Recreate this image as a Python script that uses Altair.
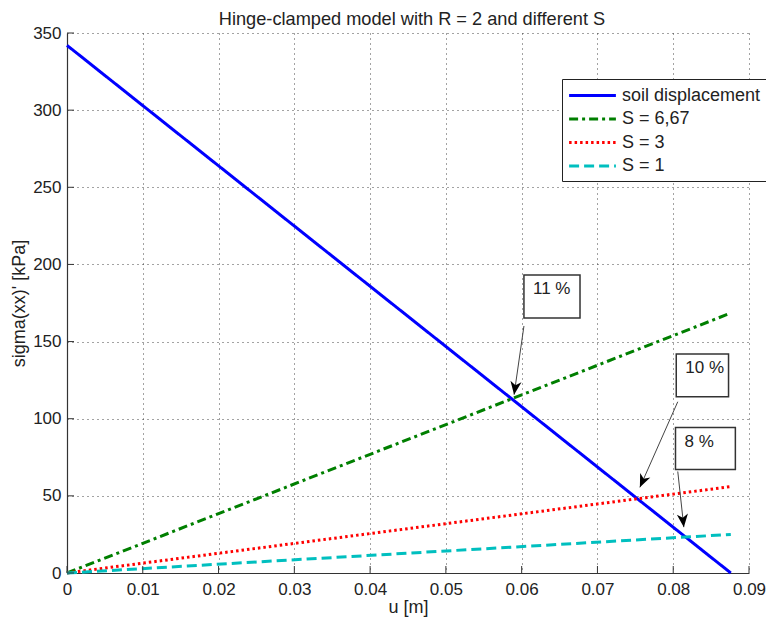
import math
import altair as alt
import pandas as pd

# ---------------- data ----------------
title_text = ["Hinge-clamped model with R = 2 and different S"]
series = ["soil displacement", "S = 6,67", "S = 3", "S = 1"]
u_start = [0.0, 0.0, 0.0, 0.0]
u_end = [0.0876, 0.0876, 0.0876, 0.0876]
sigma_start = [342.0, 0.0, 0.0, 0.0]
sigma_end = [0.0, 168.5, 56.0, 25.0]

colors = ["#0000FF", "#007F00", "#FF0000", "#00BFBF"]
dashes = [[1, 0], [9, 4, 3, 4], [2.5, 3], [10, 5]]
widths = [3, 3, 3.5, 3]

x_ticks = [0, 0.01, 0.02, 0.03, 0.04, 0.05, 0.06, 0.07, 0.08, 0.09]
y_ticks = [0, 50, 100, 150, 200, 250, 300, 350]

ann_labels = ["11 %", "10 %", "8 %"]
box_u0 = [0.0603, 0.0804, 0.0803]
box_u1 = [0.0677, 0.0873, 0.0882]
box_top = [193.1, 142.0, 94.3]
box_bot = [165.3, 114.3, 67.1]
arrow_u0 = [0.0603, 0.0806, 0.0806]
arrow_s0 = [160.1, 111.0, 65.8]
arrow_u1 = [0.0590, 0.0756, 0.0814]
arrow_s1 = [115.6, 55.5, 29.7]

# ---------------- layout ----------------
W, H = 682, 540
FONT = "Liberation Sans"
XMAX, YMAX = 0.09, 350

rows = []
for i, s in enumerate(series):
    rows.append({"series": s, "u": u_start[i], "sigma": sigma_start[i], "order": i})
    rows.append({"series": s, "u": u_end[i], "sigma": sigma_end[i], "order": i})
lines_df = pd.DataFrame(rows)

px_u = W / XMAX
px_s = H / YMAX
ann_rows = []
for i in range(len(ann_labels)):
    dx = (arrow_u1[i] - arrow_u0[i]) * px_u
    dy = -(arrow_s1[i] - arrow_s0[i]) * px_s
    ang = math.degrees(math.atan2(-dx, dy)) % 360
    ann_rows.append({
        "label": ann_labels[i],
        "bu0": box_u0[i], "bu1": box_u1[i], "bt": box_top[i], "bb": box_bot[i],
        "au0": arrow_u0[i], "as0": arrow_s0[i], "au1": arrow_u1[i], "as1": arrow_s1[i],
        "angle": ang,
    })
ann_df = pd.DataFrame(ann_rows)

xt_df = pd.DataFrame({"t": x_ticks})
yt_df = pd.DataFrame({"t": y_ticks})
title_df = pd.DataFrame({"title": title_text})

x_scale = alt.Scale(domain=[0, XMAX], nice=False, zero=False)
y_scale = alt.Scale(domain=[0, YMAX], nice=False, zero=False)

x_axis = alt.Axis(
    title="u [m]", values=x_ticks, format="~g", labelFontSize=17, titleFontSize=18,
    labelPadding=8, labelFlush=False, titleY=34, titleBaseline="middle", grid=True,
)
y_axis = alt.Axis(
    title="sigma(xx)' [kPa]", values=y_ticks, format="d", labelFontSize=17, titleFontSize=18,
    labelPadding=6, titleX=-48, titleY=H / 2, titleBaseline="middle", titleAngle=270, grid=True,
)

LEG_SYM = 18  # nominal symbol size (px) used for row height
lines = alt.Chart(lines_df).mark_line().encode(
    x=alt.X("u:Q", scale=x_scale, axis=x_axis),
    y=alt.Y("sigma:Q", scale=y_scale, axis=y_axis),
    color=alt.Color(
        "series:N",
        scale=alt.Scale(domain=series, range=colors),
        legend=alt.Legend(
            title=None, orient="none", legendX=495, legendY=46,
            symbolType="M-2.6,0H2.6", symbolSize=LEG_SYM * LEG_SYM, symbolStrokeWidth=3,
            symbolOffset=14, labelOffset=19,
            labelFontSize=18, labelFont=FONT, labelColor="#222222", labelLimit=400,
            padding=6, rowPadding=3.5, strokeColor="#222222", fillColor="white",
            cornerRadius=0,
        ),
    ),
    strokeDash=alt.StrokeDash(
        "series:N", scale=alt.Scale(domain=series, range=dashes), legend=None
    ),
    strokeWidth=alt.StrokeWidth(
        "series:N", scale=alt.Scale(domain=series, range=widths), legend=None
    ),
    detail="series:N",
    order="order:Q",
)

tick_style = dict(color="#333333", strokeWidth=1)
bottom_ticks = alt.Chart(xt_df).mark_rule(**tick_style).encode(
    x=alt.X("t:Q", scale=x_scale), y=alt.value(H), y2=alt.value(H - 7)
)
left_ticks = alt.Chart(yt_df).mark_rule(**tick_style).encode(
    y=alt.Y("t:Q", scale=y_scale), x=alt.value(0), x2=alt.value(7)
)

boxes = alt.Chart(ann_df).mark_rect(fill="white", stroke="#333333", strokeWidth=1.5).encode(
    x=alt.X("bu0:Q", scale=x_scale), x2="bu1:Q",
    y=alt.Y("bt:Q", scale=y_scale), y2="bb:Q",
)
box_text = alt.Chart(ann_df).mark_text(
    align="left", baseline="middle", dx=9, dy=14, fontSize=17, font=FONT, color="#222222"
).encode(
    x=alt.X("bu0:Q", scale=x_scale), y=alt.Y("bt:Q", scale=y_scale), text="label:N"
)
arrow_lines = alt.Chart(ann_df).mark_rule(color="#444444", strokeWidth=1).encode(
    x=alt.X("au0:Q", scale=x_scale), x2="au1:Q",
    y=alt.Y("as0:Q", scale=y_scale), y2="as1:Q",
)
arrow_heads = alt.Chart(ann_df).mark_point(
    shape="M0,0L-0.42,-1L0,-0.72L0.42,-1Z", filled=True, color="black", opacity=1, size=700
).encode(
    x=alt.X("au1:Q", scale=x_scale), y=alt.Y("as1:Q", scale=y_scale), angle=alt.Angle("angle:Q", scale=None)
)

title_mark = alt.Chart(title_df).mark_text(
    align="center", baseline="alphabetic", fontSize=18.2, font=FONT, color="#222222"
).encode(
    x=alt.value(W / 2 + 4), y=alt.value(-8), text="title:N"
)

chart = alt.layer(
    lines, bottom_ticks, left_ticks, arrow_lines, arrow_heads, boxes, box_text, title_mark
).properties(
    width=W, height=H,
    autosize=alt.AutoSizeParams(type="none"),
    padding={"left": 59, "top": 25, "right": 17, "bottom": 44},
).configure_view(stroke=None).configure_axis(
    labelFont=FONT, titleFont=FONT, labelColor="#222222", titleColor="#222222",
    titleFontWeight="normal", domainColor="#333333", domainWidth=1.2, ticks=False,
    gridColor="#333333", gridDash=[1, 4], gridWidth=1, gridOpacity=0.9,
)

chart.save("out.html", embed_options={"renderer": "svg", "actions": False})
